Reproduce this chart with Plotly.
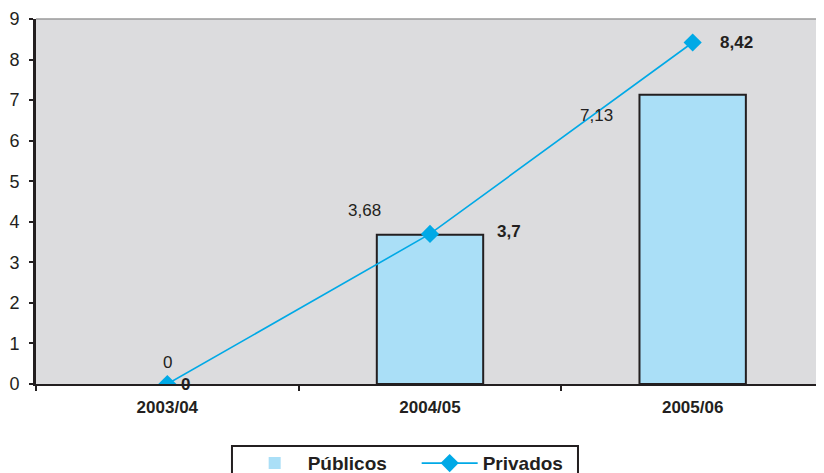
import plotly.graph_objects as go

categories = ["2003/04", "2004/05", "2005/06"]
publicos = [0, 3.68, 7.13]
privados = [0, 3.7, 8.42]
y_ticks = [0, 1, 2, 3, 4, 5, 6, 7, 8, 9]

def fmt(v):
    s = ("%.2f" % v).rstrip("0").rstrip(".")
    return s.replace(".", ",")

FONT = "Liberation Sans, Arial, sans-serif"
BAR_FILL = "#aadff7"
LINE_COL = "#00a9e6"
DARK = "#231f20"

fig = go.Figure()
fig.add_trace(go.Bar(
    x=categories, y=publicos, name="<b>Públicos</b>", width=0.405,
    marker=dict(color=BAR_FILL, line=dict(color=DARK, width=[0 if v == 0 else 2 for v in publicos])),
))
fig.add_trace(go.Scatter(
    x=categories, y=privados, name="<b>Privados</b>", mode="lines+markers",
    line=dict(color=LINE_COL, width=1.6),
    marker=dict(symbol="diamond", size=14, color=LINE_COL),
))

# label offsets (pixels) for bar-value and line-value labels
bar_label_shift = [(0, 22), (-66, 24), (-96, -21)]
line_label_shift = [(18, 0), (79, 2), (44, 0)]

for i, c in enumerate(categories):
    dx, dy = bar_label_shift[i]
    fig.add_annotation(x=c, y=publicos[i], text=fmt(publicos[i]), showarrow=False,
                       xshift=dx, yshift=dy, font=dict(family=FONT, size=17, color=DARK))
    dx, dy = line_label_shift[i]
    fig.add_annotation(x=c, y=privados[i], text="<b>%s</b>" % fmt(privados[i]), showarrow=False,
                       xshift=dx, yshift=dy, font=dict(family=FONT, size=17, color=DARK))

# top border of plot area
fig.add_shape(type="line", xref="paper", yref="paper", x0=0, x1=1, y0=1, y1=1,
              line=dict(color="#9a9a9a", width=1.5))
# legend frame
fig.add_shape(type="rect", xref="paper", yref="paper", x0=0.2487, x1=0.6878, y0=-0.17, y1=-0.32,
              line=dict(color=DARK, width=2), fillcolor="rgba(0,0,0,0)")

# page body has an 8px default margin; figure sized to fill the 824x473 window
fig.update_layout(
    width=816, height=465,
    margin=dict(l=28, r=0, t=11, b=89, autoexpand=False),
    paper_bgcolor="white", plot_bgcolor="#dcdcde",
    font=dict(family=FONT, size=17, color=DARK),
    showlegend=True,
    legend=dict(orientation="h", x=0.261, xanchor="left", y=-0.165, yanchor="top",
                borderwidth=0, bgcolor="rgba(0,0,0,0)",
                font=dict(family=FONT, size=19, color=DARK),
                itemwidth=56, entrywidth=104, traceorder="normal"),
    xaxis=dict(type="category", range=[-0.5, 2.5], showgrid=False, automargin=False,
               showline=True, linecolor=DARK, linewidth=2,
               ticks="outside", ticklen=5, tickwidth=2, tickcolor=DARK, tickson="boundaries",
               ticklabelstandoff=7,
               tickfont=dict(family=FONT, size=17, color=DARK, weight="bold")),
    yaxis=dict(range=[0, 9], tickvals=y_ticks, showgrid=False, zeroline=False, automargin=False,
               showline=True, linecolor=DARK, linewidth=3,
               ticks="outside", ticklen=4, tickwidth=1.5, tickcolor=DARK,
               ticklabelstandoff=6,
               tickfont=dict(family=FONT, size=18, color=DARK)),
)

fig.write_html("out.html")
